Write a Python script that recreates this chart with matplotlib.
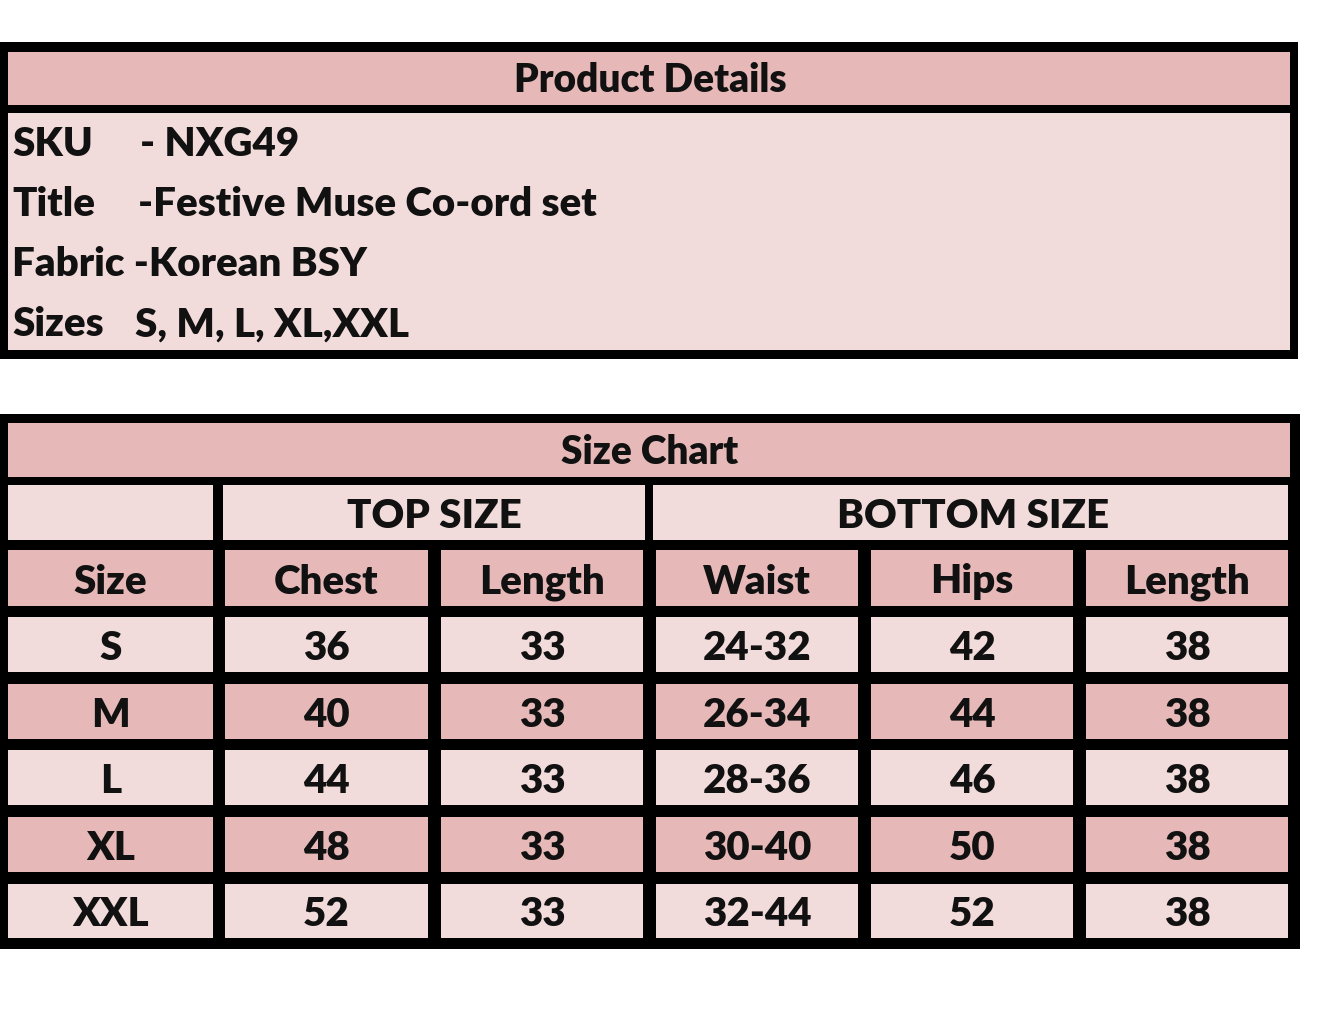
import matplotlib
matplotlib.use("Agg")
import matplotlib.pyplot as plt
from matplotlib.patches import Rectangle

DARK = "#E6B8B7"
LIGHT = "#F2DCDB"
FONT = ["Lato", "DejaVu Sans"]

detail_keys = ["SKU", "Title", "Fabric", "Sizes"]
detail_vals = ["- NXG49", "-Festive Muse Co-ord set", "-Korean BSY", "S, M, L, XL,XXL"]

col_heads = ["Size", "Chest", "Length", "Waist", "Hips", "Length"]
sizes = ["S", "M", "L", "XL", "XXL"]
chest = ["36", "40", "44", "48", "52"]
top_len = ["33", "33", "33", "33", "33"]
waist = ["24-32", "26-34", "28-36", "30-40", "32-44"]
hips = ["42", "44", "46", "50", "52"]
bottom_len = ["38", "38", "38", "38", "38"]

fig = plt.figure(figsize=(13.19, 10.16), dpi=100)
ax = fig.add_axes([0, 0, 1, 1])
ax.set_xlim(0, 1319)
ax.set_ylim(1016, 0)
ax.axis("off")


def box(x0, y0, x1, y1, color):
    ax.add_patch(Rectangle((x0, y0), x1 - x0, y1 - y0, facecolor=color, edgecolor="none"))


def txt(x, y, s, size=28, ha="center"):
    ax.text(x, y + 3, s, ha=ha, va="center", fontsize=size, fontweight="heavy",
            family=FONT, color="#111111")


# product details
box(0, 42, 1298, 359, "black")
box(8, 52, 1290, 105, DARK)
box(8, 113, 1290, 350, LIGHT)
txt(650, 78, "Product Details")
val_x = [140, 138, 125, 135]
for i, (k, v) in enumerate(zip(detail_keys, detail_vals)):
    y = 142 + i * 60
    if k == "Fabric":
        txt(12, y, k + " " + v, size=29, ha="left")
    else:
        txt(12, y, k, size=29, ha="left")
        txt(val_x[i], y, v, size=29, ha="left")

# size chart
box(0, 414, 1300, 949, "black")
box(8, 423, 1290, 477, DARK)
txt(650, 450, "Size Chart")
box(8, 485, 213, 540, LIGHT)
box(223, 485, 645, 540, LIGHT)
box(653, 485, 1288, 540, LIGHT)
txt(434, 513, "TOP SIZE", size=29)
txt(973, 513, "BOTTOM SIZE", size=29)

cols = [(8, 213), (225, 428), (441, 643), (656, 858), (871, 1073), (1086, 1288)]
rows = [(550, 606), (617, 672), (684, 739), (750, 805), (817, 872), (884, 938)]
table = [col_heads] + [list(r) for r in zip(sizes, chest, top_len, waist, hips, bottom_len)]
for r, ((y0, y1), line) in enumerate(zip(rows, table)):
    color = DARK if r % 2 == 0 else LIGHT
    for (x0, x1), s in zip(cols, line):
        box(x0, y0, x1, y1, color)
        txt((x0 + x1) / 2, (y0 + y1) / 2 + 1, s, size=29)

fig.savefig("out.png", dpi=100, facecolor="white")
